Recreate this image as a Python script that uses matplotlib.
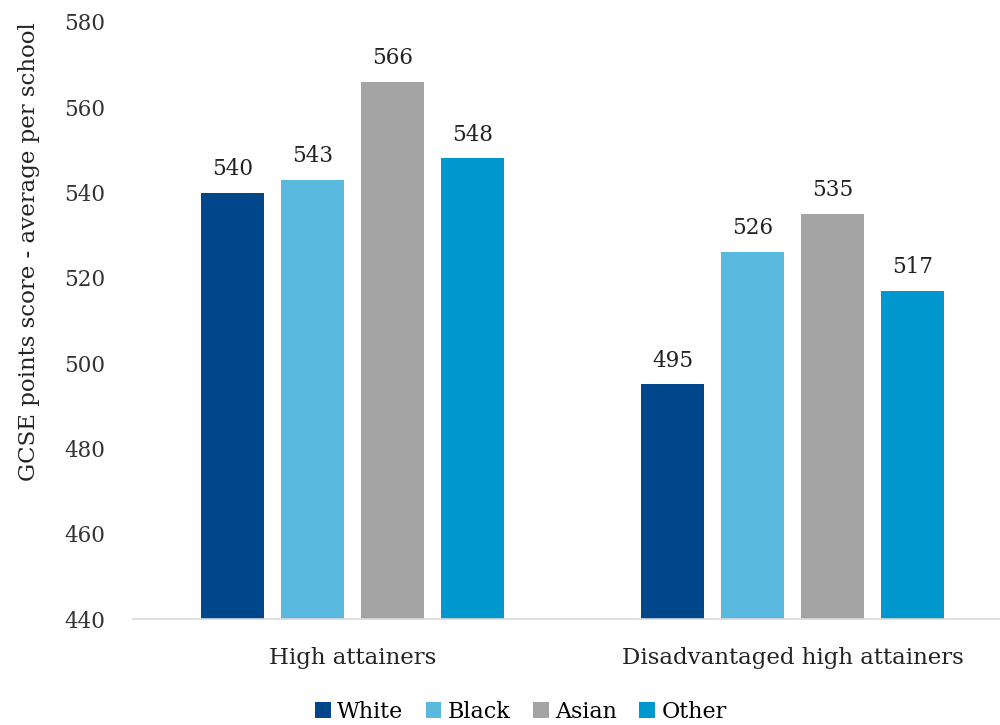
import numpy as np
import matplotlib
matplotlib.use("Agg")
import matplotlib.pyplot as plt

plt.rcParams['font.family'] = ['DejaVu Serif']

# data
groups = ['High attainers', 'Disadvantaged high attainers']
series = ['White', 'Black', 'Asian', 'Other']
values = {
    'White': [540, 495],
    'Black': [543, 526],
    'Asian': [566, 535],
    'Other': [548, 517],
}
colors = ['#00468B', '#59B8DE', '#A3A3A3', '#0096CE']
yticks = [440, 460, 480, 500, 520, 540, 560, 580]

fig = plt.figure(figsize=(10, 7.25), dpi=100)
ax = fig.add_axes([0.133, 0.1462, 0.866, 0.8235])

x = np.arange(len(groups))
step = 0.1818
width = 0.143
for i, (name, col) in enumerate(zip(series, colors)):
    pos = x + (i - 1.5) * step
    bars = ax.bar(pos, values[name], width=width, color=col, label=name, zorder=2)
    for b, v in zip(bars, values[name]):
        ax.text(b.get_x() + b.get_width() / 2, v + 3, str(v),
                ha='center', va='bottom', fontsize=15.5, color='#222222')

ax.set_ylim(440, 580)
ax.set_xlim(-0.5, 1.47)
ax.set_yticks(yticks)
ax.set_xticks(x)
ax.set_xticklabels(groups, fontsize=16.5, color='#222222')
ax.tick_params(axis='y', length=0, pad=20, labelsize=15.5, labelcolor='#333333')
ax.tick_params(axis='x', length=0, pad=20)
for s in ['top', 'right', 'left']:
    ax.spines[s].set_visible(False)
ax.spines['bottom'].set_color('#D9D9D9')
ax.spines['bottom'].set_linewidth(1.2)

ax.set_ylabel('GCSE points score - average per school', fontsize=16.5,
              color='#222222')
ax.yaxis.set_label_coords(-0.107, 0.615)

ax.legend(loc='center', bbox_to_anchor=(0.448, -0.155), ncol=4,
          frameon=False, fontsize=16, handlelength=0.7, handleheight=0.7,
          handletextpad=0.3, columnspacing=1.0, borderpad=0)

fig.savefig('out.png', dpi=100)
